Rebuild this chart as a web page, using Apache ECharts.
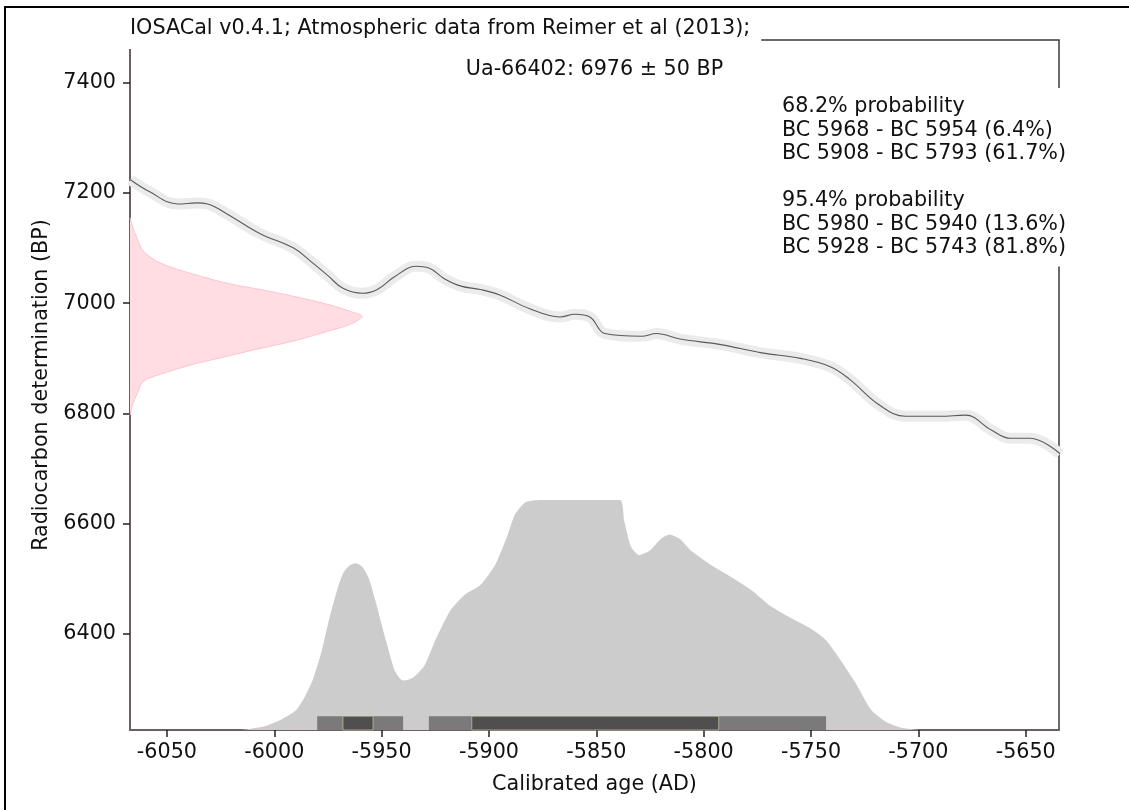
<!DOCTYPE html>
<html><head><meta charset="utf-8">
<script src="https://cdn.jsdelivr.net/npm/echarts@6/dist/echarts.min.js"></script>
<style>html,body{margin:0;padding:0;background:#fff}#c{width:1129px;height:810px}</style>
</head><body><div id="c"></div>
<script>
// ---------------- data ----------------
const titleText = 'IOSACal v0.4.1; Atmospheric data from Reimer et al (2013);';
const sampleLabel = 'Ua-66402: 6976 \u00b1 50 BP';
const xAxisName = 'Calibrated age (AD)';
const yAxisName = 'Radiocarbon determination (BP)';
const xTicks = [-6050, -6000, -5950, -5900, -5850, -5800, -5750, -5700, -5650];
const yTicks = [6400, 6600, 6800, 7000, 7200, 7400];

// calibration curve (IntCal13)
const curveYears = [-6067, -6058, -6045, -6036, -6031, -6022, -6007, -5991, -5983, -5975, -5968, -5959, -5952, -5944, -5934, -5928, -5921, -5913, -5904, -5895, -5881, -5867, -5860, -5853, -5846, -5829, -5822, -5811, -5792, -5773, -5755, -5741, -5732, -5718, -5706, -5690, -5678, -5666, -5657, -5648, -5634];
const curveBP    = [7224, 7202, 7180, 7182, 7180, 7162, 7127, 7100, 7076, 7050, 7027, 7018, 7025, 7048, 7067, 7064, 7045, 7031, 7025, 7015, 6990, 6975, 6980, 6975, 6945, 6940, 6945, 6935, 6925, 6910, 6900, 6885, 6862, 6815, 6795, 6795, 6797, 6770, 6755, 6755, 6727];

// calibrated probability distribution (relative)
const probYears   = [-6015, -6005, -5997, -5990, -5986, -5982, -5978, -5975, -5971, -5968, -5965, -5962, -5959, -5956, -5953, -5948, -5944, -5941, -5939, -5935, -5930, -5925, -5918, -5911, -5904, -5897, -5892, -5888, -5883, -5876, -5839, -5837, -5834, -5830, -5825, -5820, -5816, -5811, -5806, -5797, -5788, -5778, -5769, -5760, -5750, -5743, -5736, -5729, -5722, -5715, -5708, -5699];
const probDensity = [0, 0.015, 0.045, 0.085, 0.14, 0.22, 0.34, 0.46, 0.6, 0.68, 0.715, 0.725, 0.71, 0.66, 0.565, 0.39, 0.26, 0.22, 0.215, 0.23, 0.28, 0.39, 0.52, 0.59, 0.63, 0.72, 0.83, 0.935, 0.99, 1.0, 1.0, 0.91, 0.8, 0.76, 0.78, 0.83, 0.85, 0.83, 0.78, 0.72, 0.67, 0.61, 0.54, 0.49, 0.44, 0.39, 0.3, 0.2, 0.087, 0.035, 0.01, 0];

// radiocarbon determination distribution (relative)
const dateBP      = [7155, 7140, 7118, 7095, 7073, 7053, 7036, 7025, 7013, 6998, 6985, 6976, 6962, 6949, 6931, 6918, 6904, 6889, 6871, 6858, 6835, 6815, 6797];
const dateDensity = [0, 0.01, 0.03, 0.056, 0.13, 0.27, 0.42, 0.56, 0.70, 0.85, 0.95, 1.0, 0.95, 0.85, 0.70, 0.56, 0.42, 0.27, 0.13, 0.056, 0.03, 0.01, 0];

// highest density ranges: [BC start, BC end, percent]
const ranges68 = [[5968, 5954, 6.4], [5908, 5793, 61.7]];
const ranges95 = [[5980, 5940, 13.6], [5928, 5743, 81.8]];

// ---------------- chart ----------------
const FONT = 'DejaVu Sans';
const FS = 20.7;
const GRID = {left: 130, right: 70, top: 40, bottom: 80};
const W = 1129, H = 810;
const X_MIN = -6067.2, X_MAX = -5634.5;
const Y_MIN = 6226, Y_MAX = 7477.4;
const BAR_H = 25;

const rangeLine = r => 'BC ' + r[0] + ' - BC ' + r[1] + ' (' + r[2] + '%)';
const legendText = '68.2% probability\n' + ranges68.map(rangeLine).join('\n') +
  '\n\n95.4% probability\n' + ranges95.map(rangeLine).join('\n');

const curveData = curveYears.map((y, i) => [y, curveBP[i]]);
const barData = ranges95.map(r => [-r[0], -r[1], 0]).concat(ranges68.map(r => [-r[0], -r[1], 1]));
const plain = v => String(v);

const chart = echarts.init(document.getElementById('c'), null, {renderer: 'canvas'});
chart.setOption({
  animation: false,
  backgroundColor: '#fff',
  textStyle: {fontFamily: FONT},
  title: [{
    text: titleText,
    left: GRID.left - 10, top: 12,
    padding: [6, 11, 10, 10],
    backgroundColor: '#fff',
    textStyle: {fontFamily: FONT, fontSize: FS, fontWeight: 'normal', color: '#111'}
  }, {
    text: legendText,
    left: 775, top: 88,
    padding: [7, 8, 7, 7],
    backgroundColor: '#fff',
    textStyle: {fontFamily: FONT, fontSize: FS, fontWeight: 'normal', color: '#111', lineHeight: 23.5}
  }],
  graphic: [{
    type: 'rect', z: 100,
    shape: {x: 5, y: 7, width: 1400, height: 1000},
    style: {fill: 'none', stroke: '#000', lineWidth: 2}
  }, {
    type: 'text', z: 100,
    x: GRID.left + (W - GRID.left - GRID.right) / 2, y: 69.5,
    style: {text: sampleLabel, align: 'center', verticalAlign: 'middle', font: FS + 'px "' + FONT + '"', fill: '#111'}
  }],
  grid: {left: GRID.left, right: GRID.right, top: GRID.top, bottom: GRID.bottom, show: true,
         borderColor: '#3a3a3a', borderWidth: 1.5, backgroundColor: 'transparent'},
  xAxis: [{
    type: 'value', min: X_MIN, max: X_MAX, position: 'bottom',
    axisLine: {show: true, onZero: false, lineStyle: {color: '#6e5c60', width: 1.5}},
    axisTick: {show: true, inside: false, length: 7, customValues: xTicks, lineStyle: {color: '#222', width: 1.5}},
    axisLabel: {customValues: xTicks, formatter: plain, fontSize: FS, color: '#111', fontFamily: FONT, margin: 12},
    splitLine: {show: false},
    name: xAxisName, nameLocation: 'middle', nameGap: 44,
    nameTextStyle: {fontSize: FS, color: '#111', fontFamily: FONT}
  }, {
    type: 'value', min: 0, max: 4, show: false
  }],
  yAxis: [{
    type: 'value', min: Y_MIN, max: Y_MAX,
    axisLine: {show: true, onZero: false, lineStyle: {color: '#6e5c60', width: 1.5}},
    axisTick: {show: true, inside: false, length: 7, customValues: yTicks, lineStyle: {color: '#222', width: 1.5}},
    axisLabel: {customValues: yTicks, formatter: plain, fontSize: FS, color: '#111', fontFamily: FONT, margin: 14},
    splitLine: {show: false},
    name: yAxisName, nameLocation: 'middle', nameGap: 72, nameRotate: 90,
    nameTextStyle: {fontSize: FS, color: '#111', fontFamily: FONT}
  }, {
    type: 'value', min: 0, max: 3, show: false
  }],
  series: [{
    type: 'line', name: 'band', data: curveData, xAxisIndex: 0, yAxisIndex: 0,
    showSymbol: false, smooth: 0.4, silent: true, z: 1,
    lineStyle: {width: 11, color: '#ebebeb'}
  }, {
    type: 'line', name: 'curve', data: curveData, xAxisIndex: 0, yAxisIndex: 0,
    showSymbol: false, smooth: 0.4, silent: true, z: 3,
    lineStyle: {width: 1.1, color: '#5a5a5a'}
  }, {
    type: 'line', name: 'calibrated', xAxisIndex: 0, yAxisIndex: 1, z: 2, silent: true,
    data: probYears.map((y, i) => [y, probDensity[i]]),
    showSymbol: false, smooth: 0.2,
    lineStyle: {width: 0},
    areaStyle: {color: '#cccccc', opacity: 1, origin: 'start'}
  }, {
    type: 'custom', name: 'date', xAxisIndex: 1, yAxisIndex: 0, z: 2, silent: true,
    data: dateBP.map((b, i) => [dateDensity[i], b]),
    renderItem: function (params, api) {
      if (params.dataIndex !== 0) return;
      const pts = dateBP.map((b, i) => api.coord([dateDensity[i], b]));
      const poly = [api.coord([0, dateBP[0]])].concat(pts, [api.coord([0, dateBP[dateBP.length - 1]])]);
      return {type: 'group', children: [
        {type: 'polygon', shape: {points: poly, smooth: 0.3}, style: {fill: '#ffdde3'}},
        {type: 'polyline', shape: {points: pts, smooth: 0.3}, style: {fill: null, stroke: '#ffc4cf', lineWidth: 1}}
      ]};
    }
  }, {
    type: 'custom', name: 'ranges', xAxisIndex: 0, yAxisIndex: 0, z: 4, silent: true,
    data: barData,
    renderItem: function (params, api) {
      const p0 = api.coord([api.value(0), Y_MIN + BAR_H]);
      const p1 = api.coord([api.value(1), Y_MIN]);
      const dark = api.value(2) === 1;
      return {type: 'rect',
        shape: {x: p0[0], y: p0[1], width: p1[0] - p0[0], height: p1[1] - p0[1]},
        style: dark ? {fill: '#4f4f4f', stroke: 'rgba(215,215,180,0.6)', lineWidth: 1} : {fill: '#7a7a7a'}};
    }
  }]
});
</script></body></html>
